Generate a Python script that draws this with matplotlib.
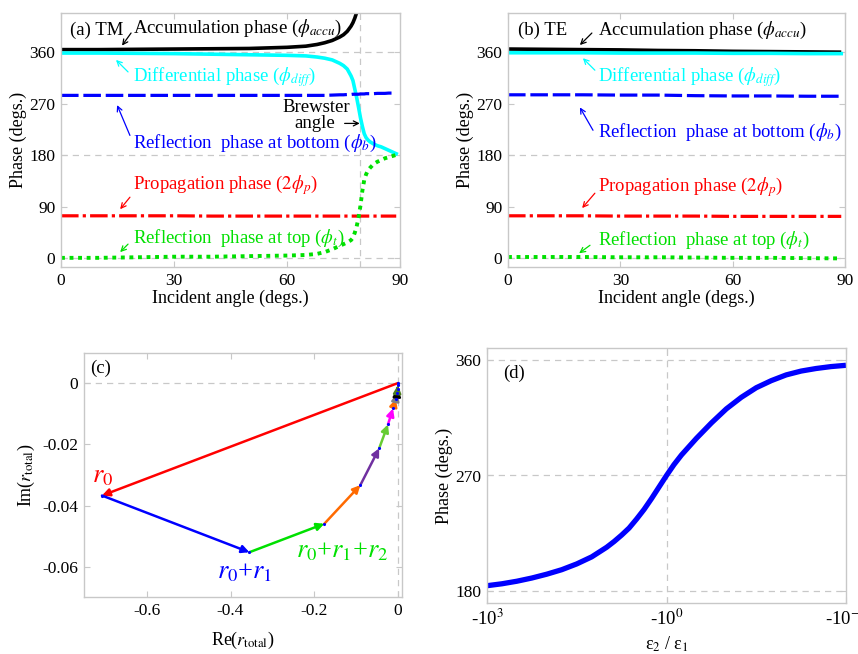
import matplotlib
matplotlib.use("Agg")
import matplotlib.pyplot as plt

plt.rcParams['font.family'] = ['Liberation Serif', 'DejaVu Serif']
plt.rcParams['mathtext.fontset'] = 'stix'

# ---------------- data ----------------
# (a) TM polarisation, phases in degrees vs incident angle
ang_tm = [0, 10, 20, 30, 40, 50, 60, 65, 68, 70, 72, 74, 75, 76, 77, 77.5, 78,
          78.5, 79, 79.5, 80, 80.5, 81, 81.5, 82, 83, 84, 85, 86, 87, 88, 89]
accu_tm = [365, 365, 365.5, 366, 366.5, 367, 369, 371, 374, 377, 381, 387, 391,
           397, 406, 412, 420, 430, 440]
diff_tm = [359, 359, 358.5, 358, 357, 356, 355, 354, 352, 350, 347, 341, 337,
           331, 319, 311, 296, 281, 264, 246, 231, 218, 211, 207, 204, 200, 197,
           195, 192, 189, 186, 183]
phib_tm = [285, 285, 285, 285, 285, 285, 285, 285, 285, 285, 285.5, 286, 286,
           286.5, 286.5, 287, 287, 287, 287, 287.5, 287.5, 287.5, 288, 288, 288,
           288, 288.5, 288.5, 288.5, 289, 289, 289]
prop_tm = [74.5, 74.5, 74.5, 74.5, 74, 74, 74, 74, 74, 74, 74, 74, 74, 74, 74,
           74, 74, 74, 74, 74, 74, 74, 74, 74, 74, 74, 74, 74, 74, 74, 74, 74]
phit_tm = [1, 1, 2, 3, 3, 4, 5, 6, 8, 11, 16, 22, 25, 28, 32, 36, 45, 56, 72,
           92, 118, 137, 147, 154, 158, 165, 169, 172, 175, 177, 179, 181]
brewster = 79.5

# (b) TE polarisation
ang_te = [0, 10, 20, 30, 40, 50, 60, 70, 80, 89]
accu_te = [366, 365.5, 365, 364.5, 363.5, 363, 362, 361.5, 361, 360.5]
diff_te = [359.5, 359.5, 359.5, 359, 359, 359, 358.5, 358.5, 358, 358]
phib_te = [286, 286, 286, 285.5, 285.5, 284.5, 284, 284, 283.5, 283.5]
prop_te = [74.5, 74.5, 74.5, 74, 74, 74, 73.5, 73.5, 73.5, 73.5]
phit_te = [2.5, 2.5, 2.5, 2, 2, 1.5, 1, 1, 0.5, 0]

# (c) partial sums of the reflected amplitudes in the complex plane
re_sum = [0, -0.707, -0.355, -0.176, -0.090, -0.045, -0.024, -0.012, -0.005,
          -0.002, -0.001, -0.0003]
im_sum = [0, -0.0367, -0.0552, -0.0459, -0.0333, -0.0213, -0.0135, -0.0083,
          -0.0052, -0.0033, -0.0018, -0.0007]
vec_colors = ['red', 'blue', '#00e000', '#ff6a00', '#7030a0', '#66cc33',
              '#ff00ff', '#ff6a00', '#808080', 'black', '#4d7f1e']

# (d) phase vs permittivity ratio (x = decade position on the -10^k axis)
eps_pos = [-3.0, -2.75, -2.5, -2.25, -2.0, -1.75, -1.5, -1.25, -1.0, -0.875,
           -0.75, -0.625, -0.5, -0.375, -0.25, -0.125, 0.0, 0.125, 0.25,
           0.375, 0.5, 0.625, 0.75, 0.875, 1.0, 1.25, 1.5, 1.75, 2.0, 2.25,
           2.5, 2.75, 3.0]
phase_d = [184, 185.5, 187.5, 190, 193, 196.5, 201, 206.5, 214, 218.5, 223.5,
           229, 236, 243.5, 252, 261, 270, 278.5, 286, 292.5, 299, 305, 311,
           316.5, 322, 331, 338.5, 344, 348.5, 351.5, 353.5, 355, 356]
eps_ticks = [-3, 0, 3]
eps_ticklabels = ['-10$^{3}$', '-10$^{0}$', '-10$^{-3}$']

phase_ticks = [0, 90, 180, 270, 360]
re_ticks = [-0.6, -0.4, -0.2, 0]
re_ticklabels = ['-0.6', '-0.4', '-0.2', '0']
im_ticks = [0, -0.02, -0.04, -0.06]
im_ticklabels = ['0', '-0.02', '-0.04', '-0.06']

# ---------------- figure ----------------
W, H = 858, 654
fig = plt.figure(figsize=(W / 100, H / 100), dpi=100)


def box(l, t, r, b):
    return [l / W, 1 - b / H, (r - l) / W, (b - t) / H]


ax_a = fig.add_axes(box(61, 13, 400, 267))
ax_b = fig.add_axes(box(508, 13, 845, 267))
ax_c = fig.add_axes(box(84, 353, 402, 597))
ax_d = fig.add_axes(box(487, 348, 846, 603))

GRAY = '#c8c8c8'


def style(ax):
    for s in ax.spines.values():
        s.set_color(GRAY)
        s.set_linewidth(1.0)
    ax.tick_params(direction='in', top=True, right=True, color=GRAY,
                   labelcolor='black', labelsize=12.5, length=4, pad=4)


def hgrid(ax, ys):
    for y in ys:
        ax.axhline(y, color=GRAY, ls=(0, (5, 4)), lw=0.9, zorder=0)


def vgrid(ax, xs):
    for x in xs:
        ax.axvline(x, color=GRAY, ls=(0, (5, 4)), lw=0.9, zorder=0)


def phase_panel(ax, ang, accu, diff, phib, prop, phit):
    lw = 2.6
    ax.plot(ang[:len(accu)], accu, color='black', lw=lw, solid_capstyle='butt')
    ax.plot(ang, diff, color='cyan', lw=lw)
    ax.plot(ang, phib, color='blue', lw=2.3, ls=(0, (5.5, 1.5)))
    ax.plot(ang, prop, color='red', lw=2.3, ls=(0, (5.5, 1.3, 1.0, 1.3)))
    ax.plot(ang, phit, color='#00e000', lw=2.8, ls=(0, (1.0, 1.2)))
    ax.set_xlim(0, 90)
    ax.set_ylim(-15, 429)
    ax.set_xticks([0, 30, 60, 90])
    ax.set_yticks(phase_ticks)
    hgrid(ax, [0, 180, 360])
    ax.set_xlabel('Incident angle (degs.)', fontsize=13, labelpad=1)
    ax.set_ylabel('Phase (degs.)', fontsize=13, labelpad=2)
    style(ax)


def note(ax, x, y, s, color, head, tail, fs=13.5):
    ax.text(x, y, s, color=color, fontsize=fs, va='center', ha='left')
    ax.annotate('', xy=head, xytext=tail,
                arrowprops=dict(arrowstyle='->', color=color, lw=0.9,
                                shrinkA=0, shrinkB=0, mutation_scale=9))


# (a) TM
phase_panel(ax_a, ang_tm, accu_tm, diff_tm, phib_tm, prop_tm, phit_tm)
vgrid(ax_a, [brewster])
ax_a.text(2.4, 399, '(a) TM', fontsize=13.5, va='center', ha='left')
note(ax_a, 19.1, 402, r'Accumulation phase ($\phi_{accu}$)', 'black',
     (16.2, 372), (18.6, 394))
note(ax_a, 19.1, 317, r'Differential phase ($\phi_{diff}$)', 'cyan',
     (14.6, 347), (17.8, 326))
note(ax_a, 19.1, 201, r'Reflection  phase at bottom ($\phi_b$)', 'blue',
     (14.9, 268), (18.3, 215))
note(ax_a, 19.1, 128, r'Propagation phase ($2\phi_p$)', 'red',
     (15.7, 86), (18.3, 107))
note(ax_a, 19.1, 35, r'Reflection  phase at top ($\phi_t$)', '#00e000',
     (15.7, 11), (17.8, 25))
ax_a.text(67.7, 264, 'Brewster', fontsize=13.5, va='center', ha='center')
ax_a.text(67.4, 236, 'angle', fontsize=13.5, va='center', ha='center')
ax_a.annotate('', xy=(79.3, 236), xytext=(75.3, 236),
              arrowprops=dict(arrowstyle='->', color='black', lw=0.9,
                              shrinkA=0, shrinkB=0, mutation_scale=9))

# (b) TE
phase_panel(ax_b, ang_te, accu_te, diff_te, phib_te, prop_te, phit_te)
ax_b.text(2.7, 399, '(b) TE', fontsize=13.5, va='center', ha='left')
note(ax_b, 24, 399, r'Accumulation phase ($\phi_{accu}$)', 'black',
     (19.2, 373), (22.4, 394))
note(ax_b, 24, 317, r'Differential phase ($\phi_{diff}$)', 'cyan',
     (20.0, 350), (23.2, 329))
note(ax_b, 24, 221, r'Reflection  phase at bottom ($\phi_b$)', 'blue',
     (19.2, 264), (22.7, 224))
note(ax_b, 24, 125, r'Propagation phase ($2\phi_p$)', 'red',
     (19.8, 88), (23.2, 114))
note(ax_b, 24, 32, r'Reflection  phase at top ($\phi_t$)', '#00e000',
     (19.0, 9), (21.9, 23))

# (c) complex-plane phasor sum
for i in range(len(re_sum) - 1):
    ax_c.annotate('', xy=(re_sum[i + 1], im_sum[i + 1]),
                  xytext=(re_sum[i], im_sum[i]),
                  arrowprops=dict(arrowstyle='-|>', color=vec_colors[i],
                                  lw=1.8, shrinkA=0, shrinkB=0,
                                  mutation_scale=11))
ax_c.plot(re_sum, im_sum, ls='none', marker='.', ms=2.5, color='blue',
          zorder=3)
ax_c.set_xlim(-0.75, 0.0095)
ax_c.set_ylim(-0.0698, 0.0098)
ax_c.set_xticks(re_ticks)
ax_c.set_xticklabels(re_ticklabels)
ax_c.set_yticks(im_ticks)
ax_c.set_yticklabels(im_ticklabels)
hgrid(ax_c, [0])
vgrid(ax_c, [0])
ax_c.text(-0.735, 0.0047, '(c)', fontsize=13.5, va='center', ha='left')
ax_c.text(-0.705, -0.0306, r'$r_0$', color='red', fontsize=19,
          ha='center', va='center')
ax_c.text(-0.367, -0.0618, r'$r_0$+$r_1$', color='blue', fontsize=19,
          ha='center', va='center')
ax_c.text(-0.133, -0.055, r'$r_0$+$r_1$+$r_2$', color='#00e000', fontsize=19,
          ha='center', va='center')
ax_c.set_xlabel(r'Re($r_{\rm total}$)', fontsize=13, labelpad=8)
ax_c.set_ylabel(r'Im($r_{\rm total}$)', fontsize=13, labelpad=4)
style(ax_c)

# (d) phase vs permittivity ratio
ax_d.plot(eps_pos, phase_d, color='blue', lw=3.8, solid_joinstyle='round',
          solid_capstyle='butt')
ax_d.set_xlim(-3, 3)
ax_d.set_ylim(170.5, 369.5)
ax_d.set_xticks(eps_ticks)
ax_d.set_xticklabels(eps_ticklabels)
ax_d.set_yticks([180, 270, 360])
hgrid(ax_d, [180, 270, 360])
vgrid(ax_d, [0])
ax_d.text(-2.73, 350, '(d)', fontsize=13.5, va='center', ha='left')
ax_d.set_xlabel('ε$_2$ / ε$_1$', fontsize=13, labelpad=4)
ax_d.set_ylabel('Phase (degs.)', fontsize=13, labelpad=2)
style(ax_d)
ax_d.tick_params(axis='x', labelsize=13.5)

fig.savefig('out.png', dpi=100)
